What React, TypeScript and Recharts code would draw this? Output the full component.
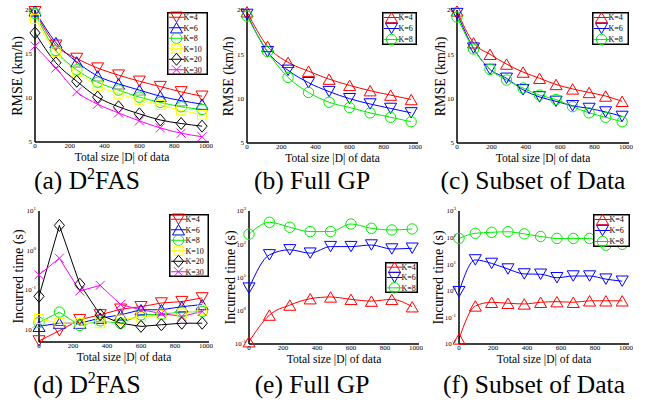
import React from 'react';
import { LineChart, Line, XAxis, YAxis, Legend } from 'recharts';

const SERIF = "'Liberation Serif', 'Times New Roman', serif";

// ---- data ----
const sizeA = [0, 120, 240, 360, 480, 600, 720, 840, 960];
const sizeC = [0, 96, 192, 288, 384, 480, 576, 672, 768, 864, 960];
const xTicks = [0, 200, 400, 600, 800, 1000];
const rmseTicks = [5, 10, 15, 20];
const timeTicksD = [0.01, 0.1, 1, 10];
const timeTicksE = [0.1, 1, 10, 100, 1000];
const timeTicksF = [0.01, 0.1, 1, 10, 100, 1000];

// (a) RMSE, D2FAS
const aK4 = [19.8, 16.0, 14.5, 13.4, 12.6, 11.9, 11.3, 10.7, 10.2];
const aK6 = [19.9, 16.3, 14.1, 12.5, 11.6, 10.9, 10.2, 9.7, 9.3];
const aK8 = [19.6, 15.4, 13.2, 11.8, 10.9, 10.1, 9.5, 9.0, 8.7];
const aK10 = [19.0, 15.2, 13.0, 11.4, 10.5, 9.8, 9.2, 8.6, 8.1];
const aK20 = [17.4, 14.0, 11.9, 10.1, 9.0, 8.2, 7.5, 7.1, 6.8];
const aK30 = [15.9, 13.4, 10.7, 9.3, 8.3, 7.4, 6.6, 6.0, 5.6];

// (b) RMSE, Full GP
const bK4 = [19.8, 15.9, 14.1, 13.1, 12.2, 11.5, 10.9, 10.4, 9.9];
const bK6 = [19.5, 15.3, 13.2, 11.8, 10.8, 10.0, 9.4, 8.9, 8.4];
const bK8 = [19.3, 15.3, 12.4, 10.7, 9.6, 9.0, 8.4, 7.9, 7.4];

// (c) RMSE, Subset of Data
const cK4 = [19.9, 16.3, 15.0, 13.9, 13.0, 12.3, 11.6, 11.1, 10.7, 10.3, 9.7];
const cK6 = [19.6, 15.7, 13.3, 12.3, 11.0, 10.2, 9.7, 9.2, 8.9, 8.5, 8.0];
const cK8 = [19.2, 15.6, 13.3, 12.1, 11.2, 10.4, 9.9, 9.1, 8.4, 7.9, 7.4];

// (d) Incurred time, D2FAS
const dK4 = [0.005, 0.0091, 0.0174, 0.023, 0.032, 0.037, 0.046, 0.05, 0.062];
const dK6 = [0.0118, 0.0141, 0.0141, 0.019, 0.023, 0.031, 0.031, 0.037, 0.042];
const dK8 = [0.0148, 0.027, 0.0123, 0.0162, 0.0141, 0.023, 0.024, 0.027, 0.028];
const dK10 = [0.018, 0.0141, 0.0141, 0.0141, 0.0174, 0.02, 0.023, 0.025, 0.031];
const dK20 = [0.068, 4.3, 0.138, 0.023, 0.0141, 0.0117, 0.0129, 0.0141, 0.0141];
const dK30 = [0.24, 0.63, 0.093, 0.129, 0.042, 0.031, 0.025, 0.021, 0.028];

// (e) Incurred time, Full GP
const eK4 = [0.117, 0.74, 1.48, 2.3, 2.6, 2.2, 1.95, 2.2, 1.32];
const eK6 = [4.8, 48, 68, 54, 85, 85, 95, 72, 76];
const eK8 = [200, 457, 324, 240, 240, 407, 302, 269, 288];

// (f) Incurred time, Subset of Data
const fK4 = [0.0155, 0.27, 0.37, 0.34, 0.32, 0.37, 0.39, 0.37, 0.42, 0.42, 0.42];
const fK6 = [0.93, 14.5, 10.7, 6.6, 4.3, 4.2, 3.1, 3.6, 3.6, 2.75, 2.3];
const fK8 = [93, 145, 158, 166, 138, 110, 93, 93, 93, 52, 56];

type Shape = 'up' | 'down' | 'circle' | 'square' | 'diamond' | 'x';
type Series = { key: string; name: string; color: string; shape: Shape; values: number[] };

const RED = '#ff0000';
const BLUE = '#0000ff';
const GREEN = '#00ee00';
const YELLOW = '#ffff00';
const BLACK = '#000000';
const MAGENTA = '#ff00ff';

function six(v: number[][]): Series[] {
  return [
    { key: 'k4', name: 'K=4', color: RED, shape: 'down', values: v[0] },
    { key: 'k6', name: 'K=6', color: BLUE, shape: 'up', values: v[1] },
    { key: 'k8', name: 'K=8', color: GREEN, shape: 'circle', values: v[2] },
    { key: 'k10', name: 'K=10', color: YELLOW, shape: 'square', values: v[3] },
    { key: 'k20', name: 'K=20', color: BLACK, shape: 'diamond', values: v[4] },
    { key: 'k30', name: 'K=30', color: MAGENTA, shape: 'x', values: v[5] },
  ];
}
function three(v: number[][]): Series[] {
  return [
    { key: 'k4', name: 'K=4', color: RED, shape: 'up', values: v[0] },
    { key: 'k6', name: 'K=6', color: BLUE, shape: 'down', values: v[1] },
    { key: 'k8', name: 'K=8', color: GREEN, shape: 'circle', values: v[2] },
  ];
}

function Marker({ shape, cx, cy, color }: { shape: Shape; cx: number; cy: number; color: string }) {
  const common = { fill: 'none', stroke: color, strokeWidth: 1 };
  if (cx == null || cy == null || isNaN(cx) || isNaN(cy)) return <g />;
  switch (shape) {
    case 'up': {
      const r = 6, h = 5.2;
      return <polygon {...common} points={`${cx - r},${cy + h} ${cx + r},${cy + h} ${cx},${cy - h}`} />;
    }
    case 'down': {
      const r = 6, h = 5.2;
      return <polygon {...common} points={`${cx - r},${cy - h} ${cx + r},${cy - h} ${cx},${cy + h}`} />;
    }
    case 'circle':
      return <circle {...common} cx={cx} cy={cy} r={5.2} />;
    case 'square':
      return <rect {...common} x={cx - 4.5} y={cy - 4.5} width={9} height={9} />;
    case 'diamond': {
      const r = 6;
      return <polygon {...common} points={`${cx},${cy - r} ${cx + r * 0.85},${cy} ${cx},${cy + r} ${cx - r * 0.85},${cy}`} />;
    }
    case 'x': {
      const r = 4.5;
      return (
        <g {...common}>
          <line x1={cx - r} y1={cy - r} x2={cx + r} y2={cy + r} />
          <line x1={cx - r} y1={cy + r} x2={cx + r} y2={cy - r} />
        </g>
      );
    }
  }
  return <g />;
}

function LogTick(props: any) {
  const { x, y, payload } = props;
  const e = Math.round(Math.log10(payload.value));
  return (
    <text x={x} y={y} dy="0.35em" textAnchor="end" fontSize={7} fontFamily={SERIF} fill="#000">
      10
      <tspan dy={-3} fontSize={5}>{String(e)}</tspan>
    </text>
  );
}

function LegendBox({ series, w, h }: { series: Series[]; w: number; h: number }) {
  const rowH = h / series.length;
  return (
    <svg width={w} height={h} style={{ display: 'block', overflow: 'visible' }}>
      <rect x={0.75} y={0.75} width={w - 1.5} height={h - 1.5} fill="#fff" stroke="#000" strokeWidth={1.5} />
      {series.map((s, i) => {
        const cy = rowH * i + rowH / 2;
        return (
          <g key={s.key}>
            <line x1={2} x2={17} y1={cy} y2={cy} stroke={s.color} strokeWidth={1} />
            <Marker shape={s.shape} cx={9.5} cy={cy} color={s.color} />
            <text x={16.5} y={cy} dy="0.35em" fontSize={8} fontFamily={SERIF} fill="#000">
              {s.name}
            </text>
          </g>
        );
      })}
    </svg>
  );
}

type PanelProps = {
  plot: [number, number, number, number];
  xs: number[];
  series: Series[];
  yDomain: [number, number];
  yTicks: number[];
  log: boolean;
  yLabel: string;
  yLabelX: number;
  xLabelBase: number;
  legend: [number, number, number, number];
  curve: 'monotone' | 'linear';
};

function Panel({ plot, xs, series, yDomain, yTicks, log, yLabel, yLabelX, xLabelBase, legend, curve }: PanelProps) {
  const YW = 34, XH = 26, MT = 4, MR = 4;
  const [x0, y0, x1, y1] = plot;
  const left = x0 - YW;
  const top = y0 - MT;
  const width = x1 - x0 + YW + MR;
  const height = y1 - y0 + MT + XH;
  const data = xs.map((x, i) => {
    const row: any = { x };
    series.forEach((s) => (row[s.key] = s.values[i]));
    return row;
  });
  const [lx, ly, lw, lh] = legend;
  return (
    <div style={{ position: 'absolute', left, top, width, height }}>
      <LineChart width={width} height={height} data={data} margin={{ top: MT, right: MR, bottom: 0, left: 0 }}>
        <XAxis
          dataKey="x"
          type="number"
          domain={[0, 1000]}
          ticks={xTicks}
          height={XH}
          tickSize={0}
          tickMargin={1}
          tick={{ fontSize: 7, fill: '#000', fontFamily: SERIF }}
          axisLine={{ stroke: '#000', strokeWidth: 1.5 }}
          label={{
            value: 'Total size |D| of data',
            position: 'insideBottom',
            offset: y1 + XH - xLabelBase,
            style: { fontSize: 11.5, fill: '#000', fontFamily: SERIF },
          }}
        />
        <XAxis
          xAxisId="top"
          orientation="top"
          type="number"
          domain={[0, 1]}
          height={0}
          tick={false}
          tickLine={false}
          axisLine={{ stroke: '#000', strokeWidth: 1.5 }}
        />
        <YAxis
          type="number"
          scale={log ? 'log' : 'auto'}
          domain={yDomain}
          ticks={yTicks}
          width={YW}
          tickSize={0}
          tickMargin={3}
          tick={log ? (p: any) => <LogTick {...p} /> : { fontSize: 7, fill: '#000', fontFamily: SERIF }}
          axisLine={{ stroke: '#000', strokeWidth: 1.5 }}
          interval={0}
          label={{
            value: yLabel,
            angle: -90,
            position: 'insideLeft',
            offset: yLabelX - left,
            style: { textAnchor: 'middle', fontSize: 14, fill: '#000', fontFamily: SERIF },
          }}
        />
        <YAxis
          yAxisId="right"
          orientation="right"
          type="number"
          domain={[0, 1]}
          width={0}
          tick={false}
          tickLine={false}
          axisLine={{ stroke: '#000', strokeWidth: 1.5 }}
        />
        {series.map((s) => (
          <Line
            key={s.key}
            dataKey={s.key}
            name={s.name}
            stroke={s.color}
            strokeWidth={1}
            type={curve}
            isAnimationActive={false}
            activeDot={false}
            dot={(p: any) => <Marker key={`${s.key}-${p.index}`} shape={s.shape} cx={p.cx} cy={p.cy} color={s.color} />}
          />
        ))}
        <Legend
          layout="vertical"
          align="center"
          verticalAlign="middle"
          wrapperStyle={{ left: lx - left, top: ly - top, width: lw, height: lh }}
          content={() => <LegendBox series={series} w={lw} h={lh} />}
        />
      </LineChart>
    </div>
  );
}

function Caption({ cx, cy, children }: { cx: number; cy: number; children: React.ReactNode }) {
  return (
    <div
      style={{
        position: 'absolute',
        left: cx - 130,
        top: cy - 15,
        width: 260,
        height: 30,
        lineHeight: '30px',
        textAlign: 'center',
        fontFamily: SERIF,
        fontSize: 25.5,
        color: '#000',
        whiteSpace: 'nowrap',
      }}
    >
      {children}
    </div>
  );
}

const D2 = (
  <>
    D<sup style={{ fontSize: 16, verticalAlign: 'baseline', position: 'relative', top: -10 }}>2</sup>FAS
  </>
);

export default function App() {
  return (
    <div style={{ position: 'absolute', left: 0, top: 0, width: 657, height: 405, background: '#fff', overflow: 'hidden' }}>
      <Panel
        plot={[35, 10, 209, 142]}
        xs={sizeA}
        series={six([aK4, aK6, aK8, aK10, aK20, aK30])}
        yDomain={[5, 20]}
        yTicks={rmseTicks}
        log={false}
        yLabel="RMSE (km/h)"
        yLabelX={17}
        xLabelBase={161}
        legend={[167, 12, 41, 63]}
        curve="monotone"
      />
      <Panel
        plot={[247, 10, 418, 143]}
        xs={sizeA}
        series={three([bK4, bK6, bK8])}
        yDomain={[5, 20]}
        yTicks={rmseTicks}
        log={false}
        yLabel="RMSE (km/h)"
        yLabelX={228}
        xLabelBase={162}
        legend={[382, 12, 35, 33]}
        curve="monotone"
      />
      <Panel
        plot={[457, 10, 629, 143]}
        xs={sizeC}
        series={three([cK4, cK6, cK8])}
        yDomain={[5, 20]}
        yTicks={rmseTicks}
        log={false}
        yLabel="RMSE (km/h)"
        yLabelX={440}
        xLabelBase={162}
        legend={[592, 12, 37, 33]}
        curve="monotone"
      />
      <Panel
        plot={[39, 211, 209, 342]}
        xs={sizeA}
        series={six([dK4, dK6, dK8, dK10, dK20, dK30])}
        yDomain={[0.0047, 10]}
        yTicks={timeTicksD}
        log={true}
        yLabel="Incurred time (s)"
        yLabelX={18}
        xLabelBase={361}
        legend={[169, 214, 40, 63]}
        curve="linear"
      />
      <Panel
        plot={[249, 211, 419, 344]}
        xs={sizeA}
        series={three([eK4, eK6, eK8])}
        yDomain={[0.1, 1000]}
        yTicks={timeTicksE}
        log={true}
        yLabel="Incurred time (s)"
        yLabelX={230}
        xLabelBase={363}
        legend={[385, 262, 33, 31]}
        curve="monotone"
      />
      <Panel
        plot={[459, 211, 629, 344]}
        xs={sizeC}
        series={three([fK4, fK6, fK8])}
        yDomain={[0.01, 1000]}
        yTicks={timeTicksF}
        log={true}
        yLabel="Incurred time (s)"
        yLabelX={438}
        xLabelBase={363}
        legend={[593, 214, 37, 33]}
        curve="monotone"
      />
      <Caption cx={87} cy={181}>(a) {D2}</Caption>
      <Caption cx={312} cy={181}>(b) Full GP</Caption>
      <Caption cx={533} cy={181}>(c) Subset of Data</Caption>
      <Caption cx={87} cy={385}>(d) {D2}</Caption>
      <Caption cx={312} cy={385}>(e) Full GP</Caption>
      <Caption cx={534} cy={385}>(f) Subset of Data</Caption>
    </div>
  );
}
